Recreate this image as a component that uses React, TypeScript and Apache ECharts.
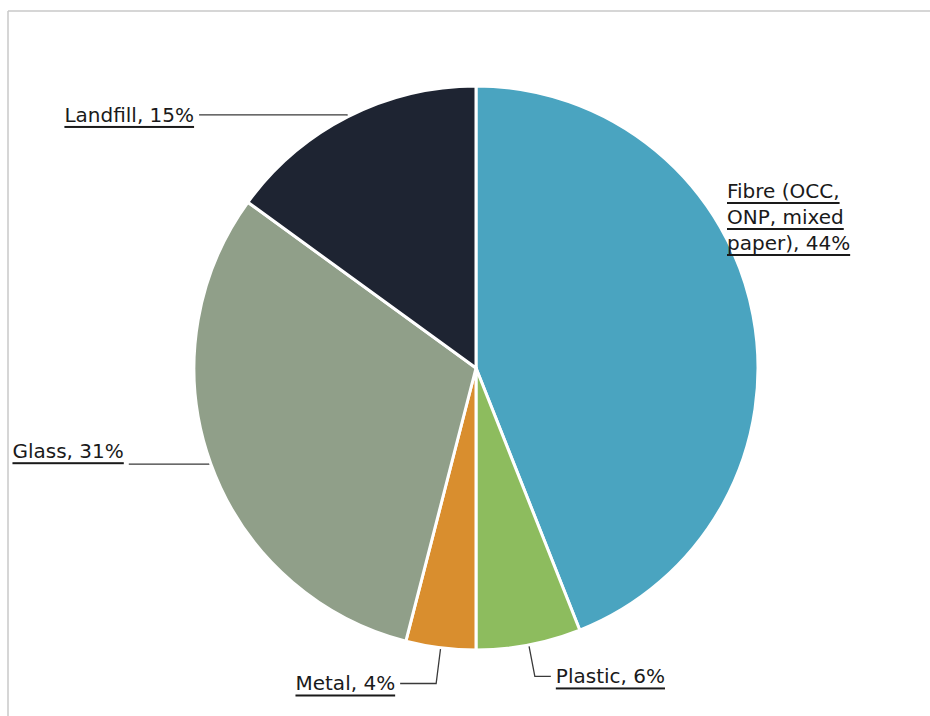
import React, { useEffect, useRef } from "react";
import * as echarts from "echarts";

const categories = ["Fibre (OCC,\nONP, mixed\npaper)", "Plastic", "Metal", "Glass", "Landfill"];
const shares = [44, 6, 4, 31, 15];
const colors = ["#4aa4c0", "#8dbc5e", "#d98e2e", "#909f89", "#1e2432"];

const labelCfg: Record<string, any> = {
  Landfill: { length: 2, length2: 148 },
  Glass: { length: 2, length2: 80 },
  Metal: { length: 36, length2: 36 },
  Plastic: { length: 32, length2: 16 },
};

export default function App() {
  const ref = useRef<HTMLDivElement>(null);
  useEffect(() => {
    document.body.style.margin = "0";
    const chart = echarts.init(ref.current!, undefined, { renderer: "svg" });
    const data = categories.map((name, i) => {
      const cfg = labelCfg[name];
      const item: any = { name, value: shares[i], itemStyle: { color: colors[i] } };
      if (cfg) {
        item.labelLine = { length: cfg.length, length2: cfg.length2 };
      } else {
        item.labelLine = { show: false };
      }
      return item;
    });
    chart.setOption({
      animation: false,
      backgroundColor: "#ffffff",
      graphic: [
        { type: "line", shape: { x1: 8, y1: 11, x2: 930, y2: 11 }, style: { stroke: "#c9c9c9", lineWidth: 1.5 } },
        { type: "line", shape: { x1: 8, y1: 11, x2: 8, y2: 716 }, style: { stroke: "#c9c9c9", lineWidth: 1.5 } },
      ],
      series: [
        {
          type: "pie",
          center: [476, 368],
          radius: 282,
          startAngle: 90,
          clockwise: true,
          avoidLabelOverlap: false,
          itemStyle: { borderColor: "#ffffff", borderWidth: 3 },
          label: {
            show: true,
            position: "outside",
            formatter: "{b}, {c}%",
            fontFamily: "DejaVu Sans",
            fontSize: 20,
            lineHeight: 26,
            color: "#1a1a1a",
            overflow: "none",
          },
          labelLine: {
            show: true,
            lineStyle: { color: "#3a3a3a", width: 1.3 },
            smooth: false,
          },
          labelLayout: (p: any) => {
            if (p.dataIndex === 0) {
              return { x: 727, y: 178, align: "left", verticalAlign: "top" };
            }
            if (p.dataIndex === 3) {
              return { verticalAlign: "bottom" };
            }
            return {};
          },
          data,
        },
      ],
    });
    const applyUnderline = () => {
      ref.current?.querySelectorAll("text").forEach((t) => {
        t.setAttribute("text-decoration", "underline");
        (t as any).style.textDecoration = "underline";
      });
    };
    applyUnderline();
    chart.on("finished", applyUnderline);
    return () => chart.dispose();
  }, []);
  return <div ref={ref} style={{ width: 930, height: 716 }} />;
}
